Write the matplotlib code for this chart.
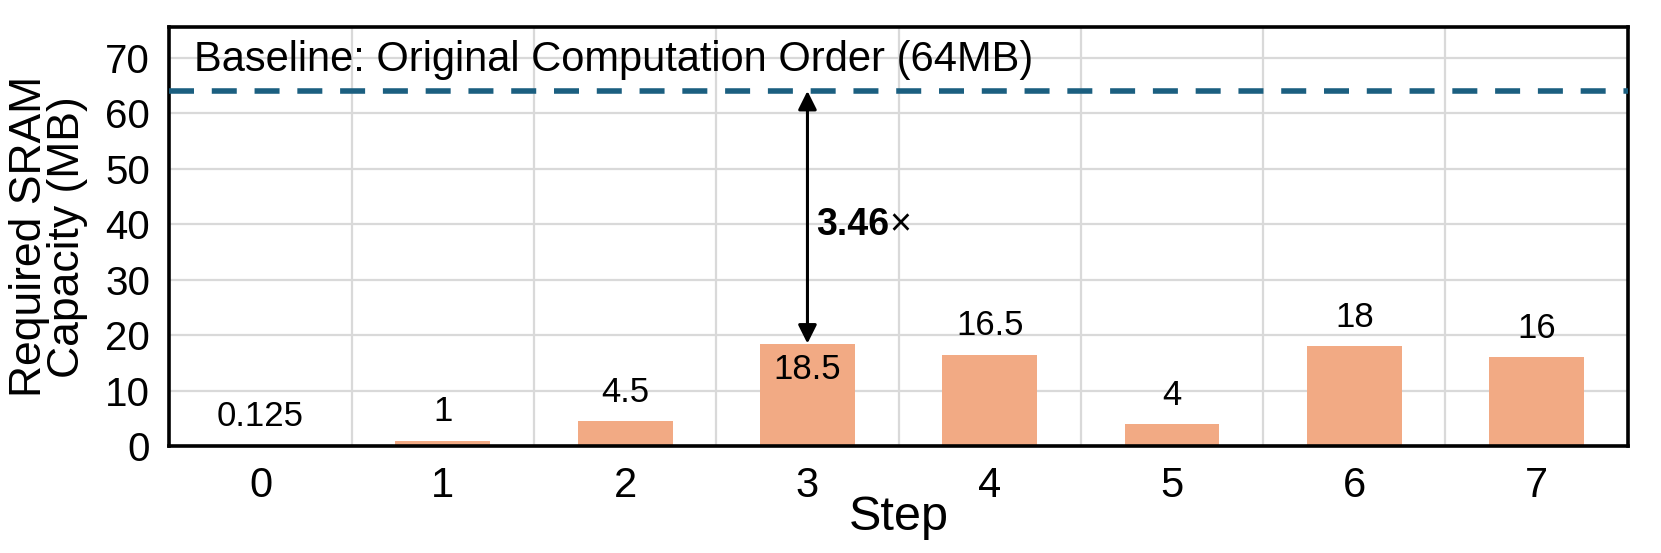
import matplotlib
matplotlib.use("Agg")
import matplotlib.pyplot as plt
import numpy as np

# data
steps = ["0", "1", "2", "3", "4", "5", "6", "7"]
sram_mb = [0.125, 1, 4.5, 18.5, 16.5, 4, 18, 16]
value_labels = ["0.125", "1", "4.5", "18.5", "16.5", "4", "18", "16"]
baseline_mb = 64
baseline_label = "Baseline: Original Computation Order (64MB)"
speedup_step = 3

plt.rcParams['font.family'] = ['Liberation Sans', 'DejaVu Sans']

fig = plt.figure(figsize=(16.61, 5.53), dpi=100)
ax = fig.add_axes([0.102, 0.193, 0.878, 0.758])

x = np.arange(len(steps))
ax.bar(x, sram_mb, width=0.52, color='#F2AA84', zorder=2)

ax.set_xlim(-0.5, len(steps) - 0.5)
ax.set_ylim(0, 75.5)
ax.set_yticks(np.arange(0, 71, 10))
ax.set_xticks(x)
ax.set_xticklabels(steps)
ax.set_xticks(x[:-1] + 0.5, minor=True)
ax.tick_params(axis='both', which='both', length=0)
ax.tick_params(axis='y', labelsize=29, pad=14)
ax.tick_params(axis='x', labelsize=30, pad=14)

ax.grid(True, axis='y', which='major', color='#d9d9d9', linewidth=1.6, zorder=0)
ax.grid(True, axis='x', which='minor', color='#d9d9d9', linewidth=1.6, zorder=0)
ax.set_axisbelow(True)

for s in ax.spines.values():
    s.set_linewidth(2.6)

# baseline
ax.axhline(baseline_mb, color='#1B5F80', linewidth=4, linestyle=(0, (4.5, 3.2)), zorder=3)
ax.text(0.017, 69.6, baseline_label, transform=ax.get_yaxis_transform(),
        fontsize=30, ha='left', va='center')

# value labels
for xi, v, lab in zip(x, sram_mb, value_labels):
    if xi == speedup_step:
        ax.text(xi, v - 4.6, lab, ha='center', va='center', fontsize=25, zorder=4)
    else:
        ax.text(xi, v + 5.2, lab, ha='center', va='center', fontsize=25, zorder=4)

# reduction arrow
ax.annotate('', xy=(speedup_step, sram_mb[speedup_step]), xytext=(speedup_step, baseline_mb),
            arrowprops=dict(arrowstyle='<|-|>', color='black', lw=2.2,
                            mutation_scale=28, shrinkA=0, shrinkB=0), zorder=5)
ratio = baseline_mb / sram_mb[speedup_step]
t = ax.text(speedup_step + 0.05, 39.8, f"{ratio:.2f}", ha='left', va='center', fontsize=27,
            fontweight='bold')
fig.canvas.draw()
bb = t.get_window_extent()
x_end = ax.transData.inverted().transform((bb.x1, bb.y0))[0]
ax.text(x_end, 39.8, "\u00d7", ha='left', va='center', fontsize=27)

ax.set_ylabel("Required SRAM\nCapacity (MB)", fontsize=32, linespacing=0.9, va='center')
ax.yaxis.set_label_coords(-0.083, 0.5)
ax.set_xlabel("Step", fontsize=35, va='center')
ax.xaxis.set_label_coords(0.5, -0.17)

fig.savefig("out.png", dpi=100)
